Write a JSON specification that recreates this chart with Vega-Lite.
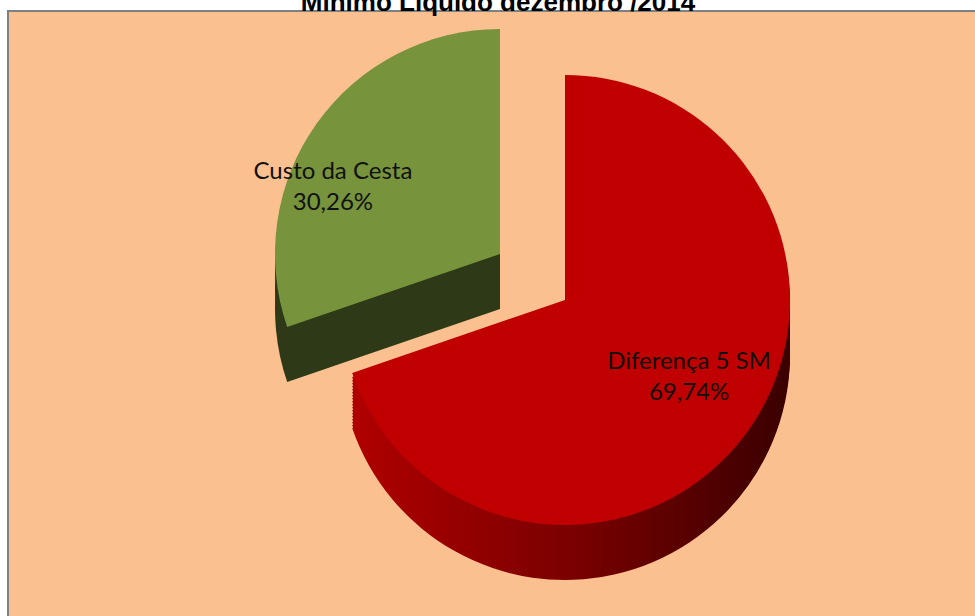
{
  "$schema": "https://vega.github.io/schema/vega-lite/v6.json",
  "width": 980,
  "height": 610,
  "autosize": {"type": "none"},
  "padding": {"left": 8, "top": 11, "right": 0, "bottom": 0},
  "background": "white",
  "view": {"fill": "#FAC090", "stroke": "#808080", "strokeWidth": 2},
  "title": {
    "text": "Mínimo Líquido dezembro /2014",
    "font": "Liberation Sans",
    "fontSize": 26,
    "fontWeight": "bold",
    "color": "black",
    "baseline": "alphabetic",
    "offset": 0,
    "dy": 26,
    "anchor": "middle"
  },
  "data": {
    "values": [
      {"categoria": "Diferença 5 SM", "percentual": 69.74},
      {"categoria": "Custo da Cesta", "percentual": 30.26}
    ]
  },
  "transform": [
    {"calculate": "[datum.categoria, replace(format(datum.percentual, '.2f'), '.', ',') + '%']", "as": "rotulo"}
  ],
  "encoding": {
    "theta": {"field": "percentual", "type": "quantitative", "stack": true},
    "order": {"field": "categoria", "sort": "descending"}
  },
  "layer": [
    {"mark": {"type": "arc", "outerRadius": 225, "xOffset": 2, "yOffset": -7, "fill": "#2E3A17"}, "encoding": {"opacity": {"condition": {"test": "datum.categoria === 'Custo da Cesta'", "value": 1}, "value": 0}}},
    {"mark": {"type": "arc", "outerRadius": 225, "xOffset": 2, "yOffset": -25, "fill": "#2E3A17"}, "encoding": {"opacity": {"condition": {"test": "datum.categoria === 'Custo da Cesta'", "value": 1}, "value": 0}}},
    {"mark": {"type": "arc", "outerRadius": 225, "xOffset": 2, "yOffset": -44, "fill": "#2E3A17"}, "encoding": {"opacity": {"condition": {"test": "datum.categoria === 'Custo da Cesta'", "value": 1}, "value": 0}}},
    {"mark": {"type": "arc", "outerRadius": 225, "xOffset": 2, "yOffset": -62, "fill": "#77933C"}, "encoding": {"opacity": {"condition": {"test": "datum.categoria === 'Custo da Cesta'", "value": 1}, "value": 0}}},
    {"mark": {"type": "arc", "outerRadius": 225, "xOffset": 67, "yOffset": 39, "fill": {"gradient": "linear", "x1": 0, "y1": 0, "x2": 1, "y2": 0, "stops": [{"offset": 0, "color": "#B00000"}, {"offset": 0.5, "color": "#7A0000"}, {"offset": 1, "color": "#3A0000"}]}}, "encoding": {"opacity": {"condition": {"test": "datum.categoria === 'Custo da Cesta'", "value": 0}, "value": 1}}},
    {"mark": {"type": "arc", "outerRadius": 225, "xOffset": 67, "yOffset": 36, "fill": {"gradient": "linear", "x1": 0, "y1": 0, "x2": 1, "y2": 0, "stops": [{"offset": 0, "color": "#B00000"}, {"offset": 0.5, "color": "#7A0000"}, {"offset": 1, "color": "#3A0000"}]}}, "encoding": {"opacity": {"condition": {"test": "datum.categoria === 'Custo da Cesta'", "value": 0}, "value": 1}}},
    {"mark": {"type": "arc", "outerRadius": 225, "xOffset": 67, "yOffset": 33, "fill": {"gradient": "linear", "x1": 0, "y1": 0, "x2": 1, "y2": 0, "stops": [{"offset": 0, "color": "#B00000"}, {"offset": 0.5, "color": "#7A0000"}, {"offset": 1, "color": "#3A0000"}]}}, "encoding": {"opacity": {"condition": {"test": "datum.categoria === 'Custo da Cesta'", "value": 0}, "value": 1}}},
    {"mark": {"type": "arc", "outerRadius": 225, "xOffset": 67, "yOffset": 30, "fill": {"gradient": "linear", "x1": 0, "y1": 0, "x2": 1, "y2": 0, "stops": [{"offset": 0, "color": "#B00000"}, {"offset": 0.5, "color": "#7A0000"}, {"offset": 1, "color": "#3A0000"}]}}, "encoding": {"opacity": {"condition": {"test": "datum.categoria === 'Custo da Cesta'", "value": 0}, "value": 1}}},
    {"mark": {"type": "arc", "outerRadius": 225, "xOffset": 67, "yOffset": 27, "fill": {"gradient": "linear", "x1": 0, "y1": 0, "x2": 1, "y2": 0, "stops": [{"offset": 0, "color": "#B00000"}, {"offset": 0.5, "color": "#7A0000"}, {"offset": 1, "color": "#3A0000"}]}}, "encoding": {"opacity": {"condition": {"test": "datum.categoria === 'Custo da Cesta'", "value": 0}, "value": 1}}},
    {"mark": {"type": "arc", "outerRadius": 225, "xOffset": 67, "yOffset": 24, "fill": {"gradient": "linear", "x1": 0, "y1": 0, "x2": 1, "y2": 0, "stops": [{"offset": 0, "color": "#B00000"}, {"offset": 0.5, "color": "#7A0000"}, {"offset": 1, "color": "#3A0000"}]}}, "encoding": {"opacity": {"condition": {"test": "datum.categoria === 'Custo da Cesta'", "value": 0}, "value": 1}}},
    {"mark": {"type": "arc", "outerRadius": 225, "xOffset": 67, "yOffset": 21, "fill": {"gradient": "linear", "x1": 0, "y1": 0, "x2": 1, "y2": 0, "stops": [{"offset": 0, "color": "#B00000"}, {"offset": 0.5, "color": "#7A0000"}, {"offset": 1, "color": "#3A0000"}]}}, "encoding": {"opacity": {"condition": {"test": "datum.categoria === 'Custo da Cesta'", "value": 0}, "value": 1}}},
    {"mark": {"type": "arc", "outerRadius": 225, "xOffset": 67, "yOffset": 18, "fill": {"gradient": "linear", "x1": 0, "y1": 0, "x2": 1, "y2": 0, "stops": [{"offset": 0, "color": "#B00000"}, {"offset": 0.5, "color": "#7A0000"}, {"offset": 1, "color": "#3A0000"}]}}, "encoding": {"opacity": {"condition": {"test": "datum.categoria === 'Custo da Cesta'", "value": 0}, "value": 1}}},
    {"mark": {"type": "arc", "outerRadius": 225, "xOffset": 67, "yOffset": 15, "fill": {"gradient": "linear", "x1": 0, "y1": 0, "x2": 1, "y2": 0, "stops": [{"offset": 0, "color": "#B00000"}, {"offset": 0.5, "color": "#7A0000"}, {"offset": 1, "color": "#3A0000"}]}}, "encoding": {"opacity": {"condition": {"test": "datum.categoria === 'Custo da Cesta'", "value": 0}, "value": 1}}},
    {"mark": {"type": "arc", "outerRadius": 225, "xOffset": 67, "yOffset": 12, "fill": {"gradient": "linear", "x1": 0, "y1": 0, "x2": 1, "y2": 0, "stops": [{"offset": 0, "color": "#B00000"}, {"offset": 0.5, "color": "#7A0000"}, {"offset": 1, "color": "#3A0000"}]}}, "encoding": {"opacity": {"condition": {"test": "datum.categoria === 'Custo da Cesta'", "value": 0}, "value": 1}}},
    {"mark": {"type": "arc", "outerRadius": 225, "xOffset": 67, "yOffset": 9, "fill": {"gradient": "linear", "x1": 0, "y1": 0, "x2": 1, "y2": 0, "stops": [{"offset": 0, "color": "#B00000"}, {"offset": 0.5, "color": "#7A0000"}, {"offset": 1, "color": "#3A0000"}]}}, "encoding": {"opacity": {"condition": {"test": "datum.categoria === 'Custo da Cesta'", "value": 0}, "value": 1}}},
    {"mark": {"type": "arc", "outerRadius": 225, "xOffset": 67, "yOffset": 6, "fill": {"gradient": "linear", "x1": 0, "y1": 0, "x2": 1, "y2": 0, "stops": [{"offset": 0, "color": "#B00000"}, {"offset": 0.5, "color": "#7A0000"}, {"offset": 1, "color": "#3A0000"}]}}, "encoding": {"opacity": {"condition": {"test": "datum.categoria === 'Custo da Cesta'", "value": 0}, "value": 1}}},
    {"mark": {"type": "arc", "outerRadius": 225, "xOffset": 67, "yOffset": 3, "fill": {"gradient": "linear", "x1": 0, "y1": 0, "x2": 1, "y2": 0, "stops": [{"offset": 0, "color": "#B00000"}, {"offset": 0.5, "color": "#7A0000"}, {"offset": 1, "color": "#3A0000"}]}}, "encoding": {"opacity": {"condition": {"test": "datum.categoria === 'Custo da Cesta'", "value": 0}, "value": 1}}},
    {"mark": {"type": "arc", "outerRadius": 225, "xOffset": 67, "yOffset": 0, "fill": {"gradient": "linear", "x1": 0, "y1": 0, "x2": 1, "y2": 0, "stops": [{"offset": 0, "color": "#B00000"}, {"offset": 0.5, "color": "#7A0000"}, {"offset": 1, "color": "#3A0000"}]}}, "encoding": {"opacity": {"condition": {"test": "datum.categoria === 'Custo da Cesta'", "value": 0}, "value": 1}}},
    {"mark": {"type": "arc", "outerRadius": 225, "xOffset": 67, "yOffset": -3, "fill": {"gradient": "linear", "x1": 0, "y1": 0, "x2": 1, "y2": 0, "stops": [{"offset": 0, "color": "#B00000"}, {"offset": 0.5, "color": "#7A0000"}, {"offset": 1, "color": "#3A0000"}]}}, "encoding": {"opacity": {"condition": {"test": "datum.categoria === 'Custo da Cesta'", "value": 0}, "value": 1}}},
    {"mark": {"type": "arc", "outerRadius": 225, "xOffset": 67, "yOffset": -6, "fill": {"gradient": "linear", "x1": 0, "y1": 0, "x2": 1, "y2": 0, "stops": [{"offset": 0, "color": "#B00000"}, {"offset": 0.5, "color": "#7A0000"}, {"offset": 1, "color": "#3A0000"}]}}, "encoding": {"opacity": {"condition": {"test": "datum.categoria === 'Custo da Cesta'", "value": 0}, "value": 1}}},
    {"mark": {"type": "arc", "outerRadius": 225, "xOffset": 67, "yOffset": -9, "fill": {"gradient": "linear", "x1": 0, "y1": 0, "x2": 1, "y2": 0, "stops": [{"offset": 0, "color": "#B00000"}, {"offset": 0.5, "color": "#7A0000"}, {"offset": 1, "color": "#3A0000"}]}}, "encoding": {"opacity": {"condition": {"test": "datum.categoria === 'Custo da Cesta'", "value": 0}, "value": 1}}},
    {"mark": {"type": "arc", "outerRadius": 225, "xOffset": 67, "yOffset": -12, "fill": {"gradient": "linear", "x1": 0, "y1": 0, "x2": 1, "y2": 0, "stops": [{"offset": 0, "color": "#B00000"}, {"offset": 0.5, "color": "#7A0000"}, {"offset": 1, "color": "#3A0000"}]}}, "encoding": {"opacity": {"condition": {"test": "datum.categoria === 'Custo da Cesta'", "value": 0}, "value": 1}}},
    {"mark": {"type": "arc", "outerRadius": 225, "xOffset": 67, "yOffset": -16, "fill": "#C00000"}, "encoding": {"opacity": {"condition": {"test": "datum.categoria === 'Custo da Cesta'", "value": 0}, "value": 1}}},
    {
      "mark": {"type": "text", "radius": 150, "xOffset": 2, "yOffset": -62, "dx": -45, "dy": 5, "font": "Lato", "fontSize": 24, "color": "#111111", "align": "center", "baseline": "middle", "lineHeight": 31},
      "encoding": {
        "text": {"field": "rotulo"},
        "opacity": {"condition": {"test": "datum.categoria === 'Custo da Cesta'", "value": 1}, "value": 0}
      }
    },
    {
      "mark": {"type": "text", "radius": 150, "xOffset": 67, "yOffset": -16, "dx": 2, "dy": -25, "font": "Lato", "fontSize": 24, "color": "#111111", "align": "center", "baseline": "middle", "lineHeight": 31},
      "encoding": {
        "text": {"field": "rotulo"},
        "opacity": {"condition": {"test": "datum.categoria === 'Custo da Cesta'", "value": 0}, "value": 1}
      }
    }
  ]
}
